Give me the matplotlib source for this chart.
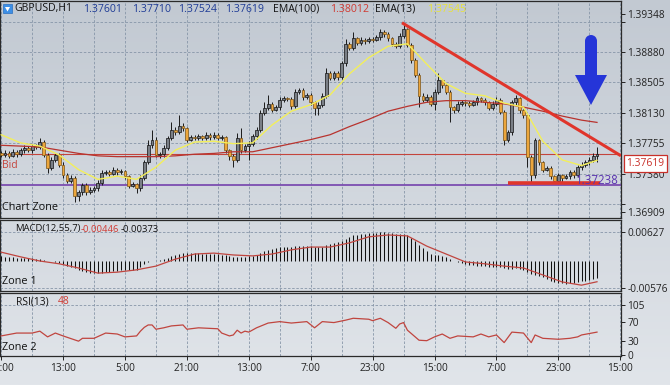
import matplotlib
matplotlib.use("Agg")
import matplotlib.pyplot as plt
import matplotlib.transforms as mtransforms
from matplotlib.patches import Polygon, Circle, Rectangle
import numpy as np

plt.rcParams['font.family'] = ['Open Sans', 'DejaVu Sans']

# ---------------- data ----------------
opens = [1.3763, 1.3761, 1.3764, 1.3760, 1.3765, 1.3762, 1.3767, 1.3770, 1.3767, 1.3772,
         1.3771, 1.3777, 1.3761, 1.3745, 1.3755, 1.3761, 1.3749, 1.3736, 1.3729, 1.3733,
         1.3711, 1.3715, 1.3724, 1.3715, 1.3718, 1.3720, 1.3727, 1.3739, 1.3740, 1.3738,
         1.3743, 1.3740, 1.3741, 1.3735, 1.3723, 1.3725, 1.3720, 1.3733, 1.3752, 1.3773,
         1.3780, 1.3761, 1.3762, 1.3770, 1.3782, 1.3792, 1.3789, 1.3797, 1.3794, 1.3780,
         1.3783, 1.3782, 1.3784, 1.3782, 1.3786, 1.3783, 1.3786, 1.3782, 1.3783, 1.3767,
         1.3760, 1.3755, 1.3782, 1.3767, 1.3772, 1.3775, 1.3784, 1.3792, 1.3813, 1.3819,
         1.3824, 1.3817, 1.3820, 1.3829, 1.3831, 1.3830, 1.3821, 1.3839, 1.3841, 1.3832,
         1.3835, 1.3826, 1.3819, 1.3823, 1.3834, 1.3862, 1.3856, 1.3862, 1.3857, 1.3874,
         1.3898, 1.3893, 1.3905, 1.3899, 1.3903, 1.3901, 1.3904, 1.3903, 1.3906, 1.3913,
         1.3910, 1.3905, 1.3898, 1.3895, 1.3908, 1.3916, 1.3897, 1.3878, 1.3860, 1.3834,
         1.3829, 1.3833, 1.3824, 1.3839, 1.3853, 1.3847, 1.3839, 1.3820, 1.3816, 1.3824,
         1.3826, 1.3825, 1.3823, 1.3826, 1.3831, 1.3829, 1.3826, 1.3819, 1.3824, 1.3829,
         1.3814, 1.3780, 1.3789, 1.3826, 1.3831, 1.3816, 1.3810, 1.3759, 1.3736, 1.3779,
         1.3752, 1.3743, 1.3745, 1.3735, 1.3729, 1.3736, 1.3733, 1.3735, 1.3740, 1.3736,
         1.3746, 1.3749, 1.3752, 1.3755, 1.37601]
highs = [1.3766, 1.3767, 1.3766, 1.3768, 1.3767, 1.3770, 1.3773, 1.3772, 1.3775, 1.3774,
         1.3782, 1.3779, 1.3763, 1.3758, 1.3764, 1.3763, 1.3752, 1.3739, 1.3736, 1.3735,
         1.3718, 1.3727, 1.3726, 1.3721, 1.3723, 1.3730, 1.3742, 1.3743, 1.3742, 1.3746,
         1.3745, 1.3744, 1.3743, 1.3737, 1.3728, 1.3727, 1.3736, 1.3755, 1.3780, 1.3792,
         1.3783, 1.3765, 1.3773, 1.3785, 1.3802, 1.3795, 1.3810, 1.3800, 1.3796, 1.3786,
         1.3786, 1.3787, 1.3786, 1.3789, 1.3788, 1.3789, 1.3788, 1.3786, 1.3785, 1.3769,
         1.3762, 1.3788, 1.3794, 1.3775, 1.3778, 1.3787, 1.3795, 1.3816, 1.3826, 1.3835,
         1.3826, 1.3823, 1.3832, 1.3834, 1.3833, 1.3832, 1.3842, 1.3844, 1.3843, 1.3838,
         1.3837, 1.3828, 1.3826, 1.3837, 1.3868, 1.3864, 1.3865, 1.3864, 1.3877, 1.3904,
         1.3900, 1.3913, 1.3907, 1.3906, 1.3905, 1.3907, 1.3906, 1.3909, 1.3916, 1.3915,
         1.3912, 1.3907, 1.3900, 1.3911, 1.3921, 1.3918, 1.3899, 1.3880, 1.3862, 1.3837,
         1.3836, 1.3835, 1.3842, 1.3862, 1.3855, 1.3849, 1.3841, 1.3822, 1.3827, 1.3829,
         1.3828, 1.3827, 1.3829, 1.3834, 1.3833, 1.3831, 1.3828, 1.3827, 1.3832, 1.3831,
         1.3816, 1.3792, 1.3829, 1.3835, 1.3833, 1.3818, 1.3812, 1.3761, 1.3782, 1.3781,
         1.3754, 1.3748, 1.3747, 1.3737, 1.3739, 1.3738, 1.3738, 1.3743, 1.3742, 1.3749,
         1.3752, 1.3755, 1.3758, 1.3763, 1.37710]
lows = [1.3758, 1.3759, 1.3757, 1.3758, 1.3759, 1.3760, 1.3764, 1.3765, 1.3764, 1.3768,
        1.3768, 1.3758, 1.3739, 1.3742, 1.3752, 1.3746, 1.3733, 1.3726, 1.3727, 1.3703,
        1.3704, 1.3712, 1.3712, 1.3713, 1.3715, 1.3717, 1.3724, 1.3736, 1.3735, 1.3736,
        1.3737, 1.3738, 1.3732, 1.3720, 1.3721, 1.3714, 1.3717, 1.3730, 1.3750, 1.3770,
        1.3758, 1.3757, 1.3759, 1.3767, 1.3779, 1.3786, 1.3787, 1.3791, 1.3777, 1.3778,
        1.3779, 1.3780, 1.3779, 1.3780, 1.3780, 1.3781, 1.3779, 1.3780, 1.3764, 1.3755,
        1.3746, 1.3752, 1.3764, 1.3765, 1.3755, 1.3772, 1.3781, 1.3789, 1.3810, 1.3816,
        1.3814, 1.3815, 1.3817, 1.3826, 1.3827, 1.3818, 1.3819, 1.3836, 1.3829, 1.3830,
        1.3823, 1.3810, 1.3810, 1.3820, 1.3831, 1.3853, 1.3854, 1.3854, 1.3855, 1.3871,
        1.3890, 1.3891, 1.3896, 1.3897, 1.3898, 1.3899, 1.3900, 1.3901, 1.3903, 1.3907,
        1.3902, 1.3895, 1.3893, 1.3893, 1.3905, 1.3894, 1.3875, 1.3857, 1.3820, 1.3826,
        1.3826, 1.3821, 1.3816, 1.3836, 1.3844, 1.3836, 1.3802, 1.3813, 1.3814, 1.3821,
        1.3822, 1.3820, 1.3821, 1.3823, 1.3826, 1.3823, 1.3816, 1.3817, 1.3821, 1.3811,
        1.3773, 1.3777, 1.3786, 1.3823, 1.3813, 1.3807, 1.3746, 1.3728, 1.3733, 1.3749,
        1.3740, 1.3741, 1.3732, 1.3726, 1.3727, 1.3726, 1.3731, 1.3732, 1.3733, 1.3734,
        1.3743, 1.3746, 1.3749, 1.3752, 1.37524]
closes = [1.3761, 1.3764, 1.3760, 1.3765, 1.3762, 1.3767, 1.3770, 1.3767, 1.3772, 1.3771,
          1.3777, 1.3761, 1.3745, 1.3755, 1.3761, 1.3749, 1.3736, 1.3729, 1.3733, 1.3711,
          1.3715, 1.3724, 1.3715, 1.3718, 1.3720, 1.3727, 1.3739, 1.3740, 1.3738, 1.3743,
          1.3740, 1.3741, 1.3735, 1.3723, 1.3725, 1.3720, 1.3733, 1.3752, 1.3773, 1.3780,
          1.3761, 1.3762, 1.3770, 1.3782, 1.3792, 1.3789, 1.3797, 1.3794, 1.3780, 1.3783,
          1.3782, 1.3784, 1.3782, 1.3786, 1.3783, 1.3786, 1.3782, 1.3783, 1.3767, 1.3760,
          1.3755, 1.3782, 1.3767, 1.3772, 1.3775, 1.3784, 1.3792, 1.3813, 1.3819, 1.3824,
          1.3817, 1.3820, 1.3829, 1.3831, 1.3830, 1.3821, 1.3839, 1.3841, 1.3832, 1.3835,
          1.3826, 1.3819, 1.3823, 1.3834, 1.3862, 1.3856, 1.3862, 1.3857, 1.3874, 1.3898,
          1.3893, 1.3905, 1.3899, 1.3903, 1.3901, 1.3904, 1.3903, 1.3906, 1.3913, 1.3910,
          1.3905, 1.3898, 1.3895, 1.3908, 1.3916, 1.3897, 1.3878, 1.3860, 1.3834, 1.3829,
          1.3833, 1.3824, 1.3839, 1.3853, 1.3847, 1.3839, 1.3820, 1.3816, 1.3824, 1.3826,
          1.3825, 1.3823, 1.3826, 1.3831, 1.3829, 1.3826, 1.3819, 1.3824, 1.3829, 1.3814,
          1.3780, 1.3789, 1.3826, 1.3831, 1.3816, 1.3810, 1.3759, 1.3736, 1.3779, 1.3752,
          1.3743, 1.3745, 1.3735, 1.3729, 1.3736, 1.3733, 1.3735, 1.3740, 1.3736, 1.3746,
          1.3749, 1.3752, 1.3755, 1.3760, 1.37619]

ema_idx = [0, 5, 10, 15, 20, 25, 30, 35, 40, 45, 50, 55, 60, 65, 70, 75,
           80, 85, 90, 95, 100, 105, 110, 115, 120, 125, 130, 135, 140, 145, 150, 154]
ema13 = [1.3786, 1.3776, 1.3772, 1.3761, 1.3743, 1.3731, 1.3735, 1.3731, 1.3746, 1.3767,
         1.3777, 1.3778, 1.3775, 1.3776, 1.3798, 1.3815, 1.3823, 1.3835, 1.3861, 1.3881,
         1.3895, 1.3898, 1.3873, 1.3849, 1.3837, 1.3834, 1.3825, 1.3820, 1.3778, 1.3755,
         1.3748, 1.37545]
ema100 = [1.3773, 1.3772, 1.3771, 1.3767, 1.3763, 1.3760, 1.3759, 1.3759, 1.3759, 1.3760,
          1.3762, 1.3763, 1.3765, 1.3765, 1.3770, 1.3775, 1.3780, 1.3786, 1.3796, 1.3805,
          1.3815, 1.3821, 1.3826, 1.3828, 1.3828, 1.3826, 1.3824, 1.3820, 1.3815, 1.3809,
          1.3804, 1.38012]

macd_hist = [0.0010, 0.0009, 0.0008, 0.0008, 0.0007, 0.0007, 0.0006, 0.0006, 0.0006, 0.0005,
             0.0005, 0.0003, 0.0000, -0.0001, -0.0002, -0.0004, -0.0007, -0.0010, -0.0012, -0.0016,
             -0.0019, -0.0021, -0.0023, -0.0025, -0.0026, -0.0026, -0.0025, -0.0024, -0.0023, -0.0022,
             -0.0021, -0.0020, -0.0020, -0.0020, -0.0019, -0.0019, -0.0012, -0.0007, -0.0003, -0.0001,
             0.0000, 0.0002, 0.0005, 0.0007, 0.0011, 0.0013, 0.0016, 0.0017, 0.0017, 0.0017,
             0.0017, 0.0017, 0.0016, 0.0016, 0.0016, 0.0015, 0.0015, 0.0014, 0.0012, 0.0010,
             0.0008, 0.0009, 0.0009, 0.0009, 0.0010, 0.0011, 0.0013, 0.0017, 0.0021, 0.0024,
             0.0026, 0.0028, 0.0030, 0.0031, 0.0031, 0.0030, 0.0032, 0.0033, 0.0033, 0.0033,
             0.0032, 0.0031, 0.0030, 0.0031, 0.0035, 0.0037, 0.0039, 0.0040, 0.0043, 0.0048,
             0.0051, 0.0055, 0.0057, 0.0058, 0.0059, 0.0060, 0.0060, 0.0061, 0.0062, 0.0062,
             0.0061, 0.0060, 0.0058, 0.0058, 0.0059, 0.0056, 0.0050, 0.0043, 0.0034, 0.0027,
             0.0021, 0.0016, 0.0013, 0.0012, 0.0010, 0.0008, 0.0004, 0.0001, -0.0002, -0.0004,
             -0.0006, -0.0008, -0.0009, -0.0010, -0.0010, -0.0011, -0.0012, -0.0012, -0.0012, -0.0013,
             -0.0016, -0.0018, -0.0017, -0.0016, -0.0017, -0.0019, -0.0024, -0.0029, -0.0030, -0.0033,
             -0.0035, -0.0038, -0.0042, -0.0045, -0.0047, -0.0048, -0.0049, -0.0048, -0.0047, -0.0046,
             -0.0044, -0.0042, -0.0040, -0.0038, -0.00373]
macd_signal = [0.0019, 0.0009, 0.0000, -0.0006, -0.0015, -0.0026, -0.0024, -0.0019, -0.0011, 0.0004,
               0.0015, 0.0017, 0.0013, 0.0011, 0.0015, 0.0024, 0.0030, 0.0030, 0.0039, 0.0052,
               0.0056, 0.0054, 0.0032, 0.0015, -0.0002, -0.0006, -0.0011, -0.0015, -0.0030, -0.0045,
               -0.0052, -0.00446]

rsi_idx = [0, 4, 8, 10, 12, 14, 16, 20, 21, 24, 27, 30, 32, 35, 36, 37, 38, 39, 40, 42,
           44, 47, 48, 51, 56, 57, 59, 60, 61, 62, 63, 64, 66, 69, 72, 75, 79, 81, 83, 86,
           89, 91, 95, 96, 98, 100, 102, 103, 104, 105, 106, 107, 108, 110, 112, 114, 116, 118, 122, 124,
           126, 128, 130, 132, 135, 137, 138, 140, 144, 147, 149, 150, 154]
rsi_val = [40, 46, 46, 50, 38, 46, 40, 29, 35, 35, 46, 44, 38, 40, 50, 58, 63, 63, 54, 57,
           61, 63, 54, 57, 55, 46, 40, 42, 52, 46, 50, 48, 57, 67, 70, 67, 70, 57, 70, 68,
           73, 77, 75, 72, 77, 68, 56, 65, 68, 52, 45, 38, 31, 30, 38, 44, 35, 40, 38, 44,
           38, 42, 26, 48, 46, 26, 42, 35, 33, 35, 38, 42, 48]

price_ticks = [1.39348, 1.39255, 1.38880, 1.38505, 1.38130, 1.37755, 1.37380, 1.37005, 1.36909]
price_labels = ["1.39348", "", "1.38880", "1.38505", "1.38130", "1.37755", "1.37380", "", "1.36909"]
grid_prices = [1.39255, 1.38880, 1.38505, 1.38130, 1.37755, 1.37380, 1.37005]
macd_ticks = [0.00627, -0.00576]
macd_labels = ["0.00627", "-0.00576"]
rsi_ticks = [105, 70, 30, 0]
time_pos = [0, 16, 32, 48, 64, 80, 96, 112, 128, 144, 160]
time_labels = ["21:00", "13:00", "5:00", "21:00", "13:00", "7:00", "23:00", "15:00", "7:00", "23:00", "15:00"]

last_price = 1.37619
level_price = 1.37238
support_price = 1.3726
trend_x = [103.6, 160.2]
trend_y = [1.3924, 1.3760]
support_x = [131.0, 154.8]

# ---------------- figure ----------------
W, H = 670, 385
fig = plt.figure(figsize=(W / 100, H / 100), dpi=100)
pix = mtransforms.Affine2D().scale(1 / W, -1 / H).translate(0, 1) + fig.transFigure

bg = fig.add_axes([0, 0, 1, 1])
g = np.linspace(0, 1, 256)[:, None, None]
ctop = np.array([194, 201, 210]) / 255
cbot = np.array([225, 229, 234]) / 255
bg.imshow(ctop + (cbot - ctop) * g, aspect='auto', extent=[0, 1, 0, 1])
bg.set_axis_off()
bg.set_zorder(-5)


def box(l, t, r, b):
    return [l / W, 1 - b / H, (r - l) / W, (b - t) / H]


ax1 = fig.add_axes(box(0, 1, 621, 218))
ax2 = fig.add_axes(box(0, 220, 621, 291))
ax3 = fig.add_axes(box(0, 293, 621, 356))

grid_kw = dict(color='#8796a8', lw=0.6, ls=(0, (3, 2)), zorder=1)
for ax in (ax1, ax2, ax3):
    ax.set_facecolor('none')
    ax.set_xlim(-0.3, 160.2)
    for s in ax.spines.values():
        s.set_color('#2a2a2a')
        s.set_linewidth(0.9)
    for gx in range(0, 161, 8):
        ax.axvline(gx, **grid_kw)
    ax.yaxis.tick_right()
    ax.tick_params(axis='y', length=3, width=0.7, pad=1.5, labelsize=7.3,
                   colors='#222222')
for ax in (ax1, ax2):
    ax.tick_params(axis='x', bottom=False, labelbottom=False)

# ---- main panel ----
ax1.set_ylim(1.36834, 1.39508)
for gp in grid_prices:
    ax1.axhline(gp, **grid_kw)
ax1.set_yticks(price_ticks)
ax1.set_yticklabels(price_labels)

x = np.arange(len(closes))
o = np.array(opens); c = np.array(closes)
up = c >= o
body_bot = np.minimum(o, c)
body_h = np.maximum(np.abs(c - o), 0.00006)
ax1.vlines(x, lows, highs, color='#1a1a1a', lw=0.7, zorder=3)
ax1.bar(x[up], body_h[up], bottom=body_bot[up], width=0.72, color='#7a7f86',
        edgecolor='#111111', lw=0.5, zorder=4)
ax1.bar(x[~up], body_h[~up], bottom=body_bot[~up], width=0.72, color='#eca63c',
        edgecolor='#7a5418', lw=0.5, zorder=4)

ax1.axhline(last_price, color='#c4443c', lw=0.8, zorder=2)
ax1.axhline(level_price, color='#7b4db0', lw=1.3, zorder=2)
ax1.plot(ema_idx, ema100, color='#b8332e', lw=0.9, zorder=5)
ax1.plot(ema_idx, ema13, color='#f3ef5a', lw=1.0, zorder=5)
ax1.plot(trend_x, trend_y, color='#e0352b', lw=2.2, zorder=6, solid_capstyle='butt')
ax1.plot(support_x, [support_price, support_price], color='#e0352b', lw=2.6, zorder=6,
         solid_capstyle='butt')

# blue arrow
arrow_col = '#2535d8'
ax1.add_patch(Polygon([(585, 41), (585, 75), (575, 75), (591, 105), (607, 75), (597, 75), (597, 41)],
                      closed=True, transform=pix, fc=arrow_col, ec='none', zorder=7))
ax1.add_patch(Circle((591, 41), 6, transform=pix, fc=arrow_col, ec='none', zorder=7))

ax1.text(619, 180, "1.37238", transform=pix, ha='right', va='center', color='#5a33b0',
         fontsize=8.3, zorder=8)
ax1.text(2, 165, "Bid", transform=pix, ha='left', va='center', color='#c4443c', fontsize=7.5)
ax1.text(2, 208, "Chart Zone", transform=pix, ha='left', va='center', color='#111111',
         fontsize=7.8)

# header
ax1.add_patch(Rectangle((3, 4), 9, 9, transform=pix, fc='#3d8fe6', ec='#2a6fc0', lw=0.5,
                        zorder=8, clip_on=False))
ax1.add_patch(Polygon([(5, 7), (10, 7), (7.5, 11.5)], closed=True, transform=pix, fc='white',
                      ec='none', zorder=9, clip_on=False))
hdr = [(14, "GBPUSD,H1", '#111111'), (83, "1.37601", '#1f3c96'), (132, "1.37710", '#1f3c96'),
       (178, "1.37524", '#1f3c96'), (225, "1.37619", '#1f3c96'), (273, "EMA(100)", '#111111'),
       (330, "1.38012", '#d03a32'), (375, "EMA(13)", '#111111'), (427, "1.37545", '#e8e23a')]
for hx, s, col in hdr:
    fig.text(hx, 9, s, transform=pix, ha='left', va='center', color=col, fontsize=7.6)

# current price box
fig.text(645.5, 163.5, "1.37619", transform=pix, ha='center', va='center', color='#c8302a',
         fontsize=7.4, bbox=dict(boxstyle='square,pad=0.28', fc='white', ec='#c8302a', lw=0.9))

# ---- MACD panel ----
ax2.set_ylim(-0.00645, 0.00882)
for gp in macd_ticks:
    ax2.axhline(gp, **grid_kw)
ax2.vlines(x, 0, macd_hist, color='#111111', lw=0.75, zorder=3)
ax2.plot(ema_idx, macd_signal, color='#c0453f', lw=0.9, zorder=4)
ax2.set_yticks(macd_ticks)
ax2.set_yticklabels(macd_labels)
fig.text(15, 229, "MACD(12,55,7)", transform=pix, ha='left', va='center', color='#111111',
         fontsize=6.8)
fig.text(81, 229, "-0.00446", transform=pix, ha='left', va='center', color='#d03a32', fontsize=6.8)
fig.text(121, 229, "-0.00373", transform=pix, ha='left', va='center', color='#111111',
         fontsize=6.8)
fig.text(2, 281, "Zone 1", transform=pix, ha='left', va='center', color='#111111', fontsize=7.8)

# ---- RSI panel ----
ax3.set_ylim(-2.1, 130)
ax3.axhline(105, **grid_kw)
ax3.plot(rsi_idx, rsi_val, color='#c0453f', lw=0.9, zorder=4)
ax3.set_yticks(rsi_ticks)
ax3.set_yticklabels([str(v) for v in rsi_ticks])
ax3.set_xticks(time_pos)
ax3.set_xticklabels(time_labels)
ax3.tick_params(axis='x', length=3, width=0.7, pad=2, labelsize=7.3, colors='#222222')
fig.text(16, 302, "RSI(13)", transform=pix, ha='left', va='center', color='#111111', fontsize=7.4)
fig.text(58, 302, "48", transform=pix, ha='left', va='center', color='#d03a32', fontsize=7.4)
fig.text(2, 348, "Zone 2", transform=pix, ha='left', va='center', color='#111111', fontsize=7.8)

fig.savefig("out.png", dpi=100)
